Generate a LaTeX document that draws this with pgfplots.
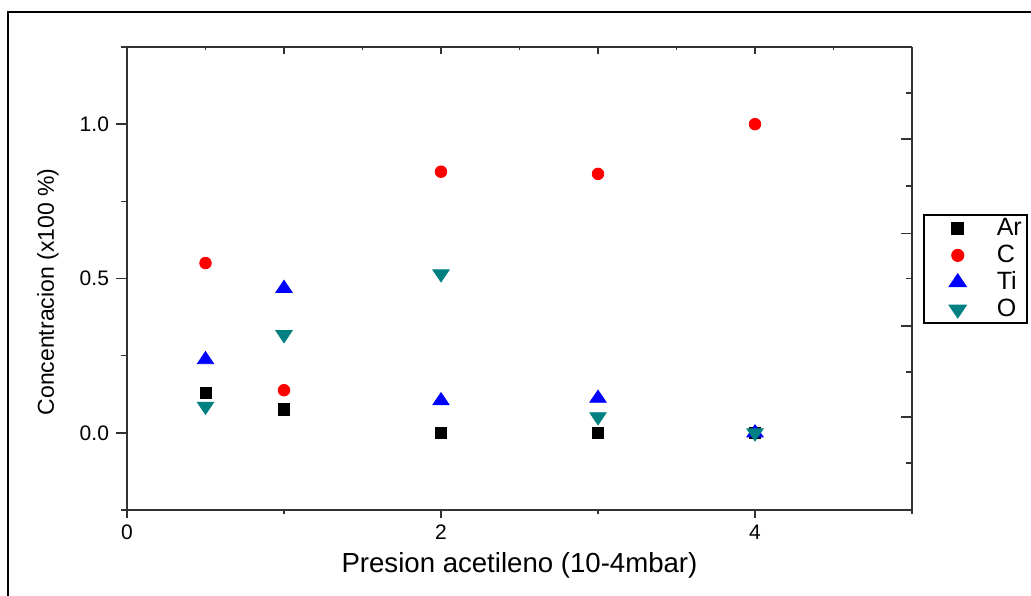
\documentclass[border=0pt]{standalone}
\usepackage{fontspec}
\setmainfont{Liberation Sans}
\usepackage{pgfplots}
\pgfplotsset{compat=1.18}

\definecolor{oteal}{RGB}{0,128,128}
\definecolor{axgray}{RGB}{50,50,50}

\pgfplotsset{
  frameaxis/.style={
    scale only axis,
    width=392.5pt, height=231.5pt,
    at={(63.5pt,42.5pt)}, anchor=south west,
    xmin=0, xmax=5, ymin=-0.25, ymax=1.25,
    axis line style={-, line width=0.9pt, draw=axgray},
    every tick/.style={line width=0.8pt, draw=axgray},
    tick label style={font=\fontsize{10.5}{12}\selectfont, text=black},
  },
}

\begin{document}
\begin{tikzpicture}
\path[use as bounding box] (0,0) rectangle (515.5pt,297.5pt);
% outer frame
\draw[line width=0.75pt] (4pt,-10pt) -- (4pt,291.5pt) -- (530pt,291.5pt);

% bottom spine
\begin{axis}[frameaxis,
  axis x line*=bottom, axis y line=none,
  tick align=outside,
  major tick length=4pt, minor tick length=2pt,
  xtick={0,2,4}, xticklabels={0,2,4},
  minor xtick={1,3,5},
  xlabel={Presion acetileno (10-4mbar)},
  x label style={at={(axis description cs:0.5,-0.1188)}, anchor=center,
    font=\fontsize{13.8}{15}\selectfont},
]
\end{axis}

% top spine
\begin{axis}[frameaxis,
  axis x line*=top, axis y line=none,
  tick align=inside,
  major tick length=3.5pt, minor tick length=1.5pt,
  xtick={1,2,3,4}, xticklabels={},
  minor xtick={0.5,1.5,2.5,3.5,4.5},
]
\end{axis}

% right spine
\begin{axis}[frameaxis,
  axis y line*=right, axis x line=none,
  tick align=inside,
  major tick length=5.5pt, minor tick length=3pt,
  ytick={0.052,0.347,0.646,0.951}, yticklabels={},
  minor ytick={-0.097,0.198,0.5,0.799,1.101},
]
\end{axis}

% left spine with the data
\begin{axis}[frameaxis,
  axis y line*=left, axis x line=none,
  tick align=outside,
  major tick length=5.5pt, minor tick length=3pt,
  ytick={0,0.5,1}, yticklabels={0.0,0.5,1.0},
  minor ytick={-0.25,0.25,0.75,1.25},
  ylabel={Concentracion (x100 \%)},
  y label style={at={(axis description cs:-0.1006,0.471)}, anchor=center,
    font=\fontsize{11.5}{13}\selectfont},
  clip=false,
  legend style={
    at={(axis description cs:1.014,0.639)}, anchor=north west,
    draw=black, line width=0.75pt,
    inner xsep=0pt, inner ysep=0pt,
    font=\fontsize{12.5}{14}\selectfont,
    nodes={text height=8.8pt, text depth=1.2pt, inner xsep=1.5pt, inner ysep=1.75pt,
      text width=13.5pt, align=left},
    /tikz/column sep=0pt,
  },
  legend image code/.code={%
    \path[draw=none, fill=none] (0pt,-1pt) rectangle (35pt,1pt);
    \draw[mark repeat=2,mark phase=2,#1]
      plot coordinates {(0pt,0pt) (17pt,0pt) (34pt,0pt)};},
]
\addplot[only marks, mark=square*, mark size=2.8pt, black]
  coordinates {(0.5,0.13) (1,0.076) (2,0) (3,0) (4,0)};
\addlegendentry{Ar}
\addplot[only marks, mark=*, mark size=2.9pt, red]
  coordinates {(0.5,0.55) (1,0.138) (2,0.846) (3,0.839) (4,1.0)};
\addlegendentry{C}
\addplot[only marks, mark=triangle*, mark size=4.5pt, blue,
  mark options={xscale=1.05, yscale=0.9}]
  coordinates {(0.5,0.237) (1,0.468) (2,0.104) (3,0.112) (4,0)};
\addlegendentry{Ti}
\addplot[only marks, mark=triangle*, mark size=4.5pt, oteal,
  mark options={rotate=180, xscale=1.05, yscale=0.9}]
  coordinates {(0.5,0.086) (1,0.318) (2,0.515) (3,0.052) (4,0)};
\addlegendentry{O}
\end{axis}
\end{tikzpicture}
\end{document}
